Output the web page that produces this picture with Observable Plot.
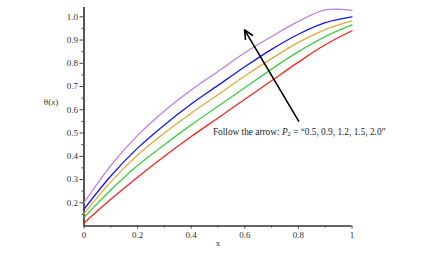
<!DOCTYPE html>
<html><head><meta charset="utf-8">
<script src="https://cdn.jsdelivr.net/npm/d3@7"></script>
<script src="https://cdn.jsdelivr.net/npm/@observablehq/plot@0.6"></script>
<style>body{margin:0;background:#fff}</style>
</head><body><div id="chart"></div>
<script>
const xValues = [0, 0.1, 0.2, 0.3, 0.4, 0.5, 0.6, 0.7, 0.8, 0.9, 1.0];
const p2Values = ["0.5", "0.9", "1.2", "1.5", "2.0"];
const seriesColors = ["#ff2020", "#3fd03f", "#e8a838", "#1414ff", "#c27ce2"];
const redTheta    = [0.113, 0.215, 0.31, 0.40, 0.485, 0.565, 0.645, 0.725, 0.805, 0.88, 0.94];
const greenTheta  = [0.137, 0.255, 0.36, 0.45, 0.535, 0.615, 0.695, 0.775, 0.85, 0.915, 0.965];
const orangeTheta = [0.153, 0.29, 0.405, 0.50, 0.585, 0.665, 0.745, 0.82, 0.89, 0.945, 0.982];
const blueTheta   = [0.172, 0.315, 0.435, 0.535, 0.625, 0.705, 0.785, 0.86, 0.925, 0.975, 1.0];
const purpleTheta = [0.20, 0.36, 0.49, 0.595, 0.685, 0.765, 0.845, 0.915, 0.98, 1.03, 1.028];
const yTickValues = [0.2, 0.3, 0.4, 0.5, 0.6, 0.7, 0.8, 0.9, 1.0];
const yMinorTicks = [0.15, 0.25, 0.35, 0.45, 0.55, 0.65, 0.75, 0.85, 0.95];
const xTickValues = [0, 0.2, 0.4, 0.6, 0.8, 1];
const xMinorTicks = [0.1, 0.3, 0.5, 0.7, 0.9];
const arrowStart = {x: 0.801, y: 0.551};
const arrowEnd = {x: 0.599, y: 0.944};
const annotationPos = {x: 0.483, y: 0.50};
const annotationPrefix = "Follow the arrow: ";
const annotationSuffix = " = \u201C0.5, 0.9, 1.2, 1.5, 2.0\u201D";

const allSeries = [redTheta, greenTheta, orangeTheta, blueTheta, purpleTheta];
const rows = [];
allSeries.forEach((vals, i) => {
  vals.forEach((v, j) => rows.push({x: xValues[j], y: v, series: p2Values[i], color: seriesColors[i]}));
});

const fontFamily = "'Liberation Serif', 'DejaVu Serif', serif";
const plot = Plot.plot({
  width: 424, height: 256,
  marginLeft: 83.5, marginRight: 72.5, marginTop: 7, marginBottom: 30.5,
  x: {domain: [0, 1]},
  y: {domain: [0.1, 1.04]},
  style: {fontFamily, fontSize: "9px", color: "#333", background: "#fff"},
  marks: [
    Plot.axisY({ticks: yTickValues, tickFormat: d => d.toFixed(1), tickSize: 4, tickPadding: 2, label: null, stroke: "#444"}),
    Plot.axisY({ticks: yMinorTicks, tickSize: 2, text: null, label: null, stroke: "#444"}),
    Plot.axisX({ticks: xTickValues, tickFormat: d => String(d), tickSize: 3, tickPadding: 3, label: "x", labelAnchor: "center", labelOffset: 20, labelArrow: "none", stroke: "#444"}),
    Plot.axisX({ticks: xMinorTicks, tickSize: 2, text: null, label: null, stroke: "#444"}),
    Plot.ruleX([0], {stroke: "#555", strokeWidth: 2}),
    Plot.ruleY([0.1], {stroke: "#333", strokeWidth: 1.3}),
    Plot.line(rows, {x: "x", y: "y", z: "series", stroke: "color", strokeWidth: 1.3, curve: "catmull-rom"}),
    Plot.arrow([{x1: arrowStart.x, y1: arrowStart.y, x2: arrowEnd.x, y2: arrowEnd.y}], {x1: "x1", y1: "y1", x2: "x2", y2: "y2", stroke: "black", strokeWidth: 1.6, headLength: 9, headAngle: 50})
  ]
});

const svg = d3.select(plot);
const sx = plot.scale("x"), sy = plot.scale("y");
// y-axis label theta(x)
const yl = svg.append("text")
  .attr("x", 51).attr("y", sy.apply(0.625))
  .attr("text-anchor", "middle").attr("dominant-baseline", "middle")
  .attr("font-family", fontFamily).attr("font-size", "9px").attr("fill", "#333");
yl.append("tspan").text("\u03B8(");
yl.append("tspan").attr("font-style", "italic").text("x");
yl.append("tspan").text(")");
// annotation
const ann = svg.append("text")
  .attr("x", sx.apply(annotationPos.x)).attr("y", sy.apply(annotationPos.y))
  .attr("text-anchor", "start").attr("dominant-baseline", "middle")
  .attr("font-family", fontFamily).attr("font-size", "9.3px").attr("fill", "#222");
ann.append("tspan").text(annotationPrefix);
ann.append("tspan").attr("font-style", "italic").text("P");
ann.append("tspan").attr("font-size", "6.5px").attr("dy", "2.5").text("2");
ann.append("tspan").attr("dy", "-2.5").text(annotationSuffix);

document.getElementById("chart").appendChild(plot);
</script>
</body></html>
